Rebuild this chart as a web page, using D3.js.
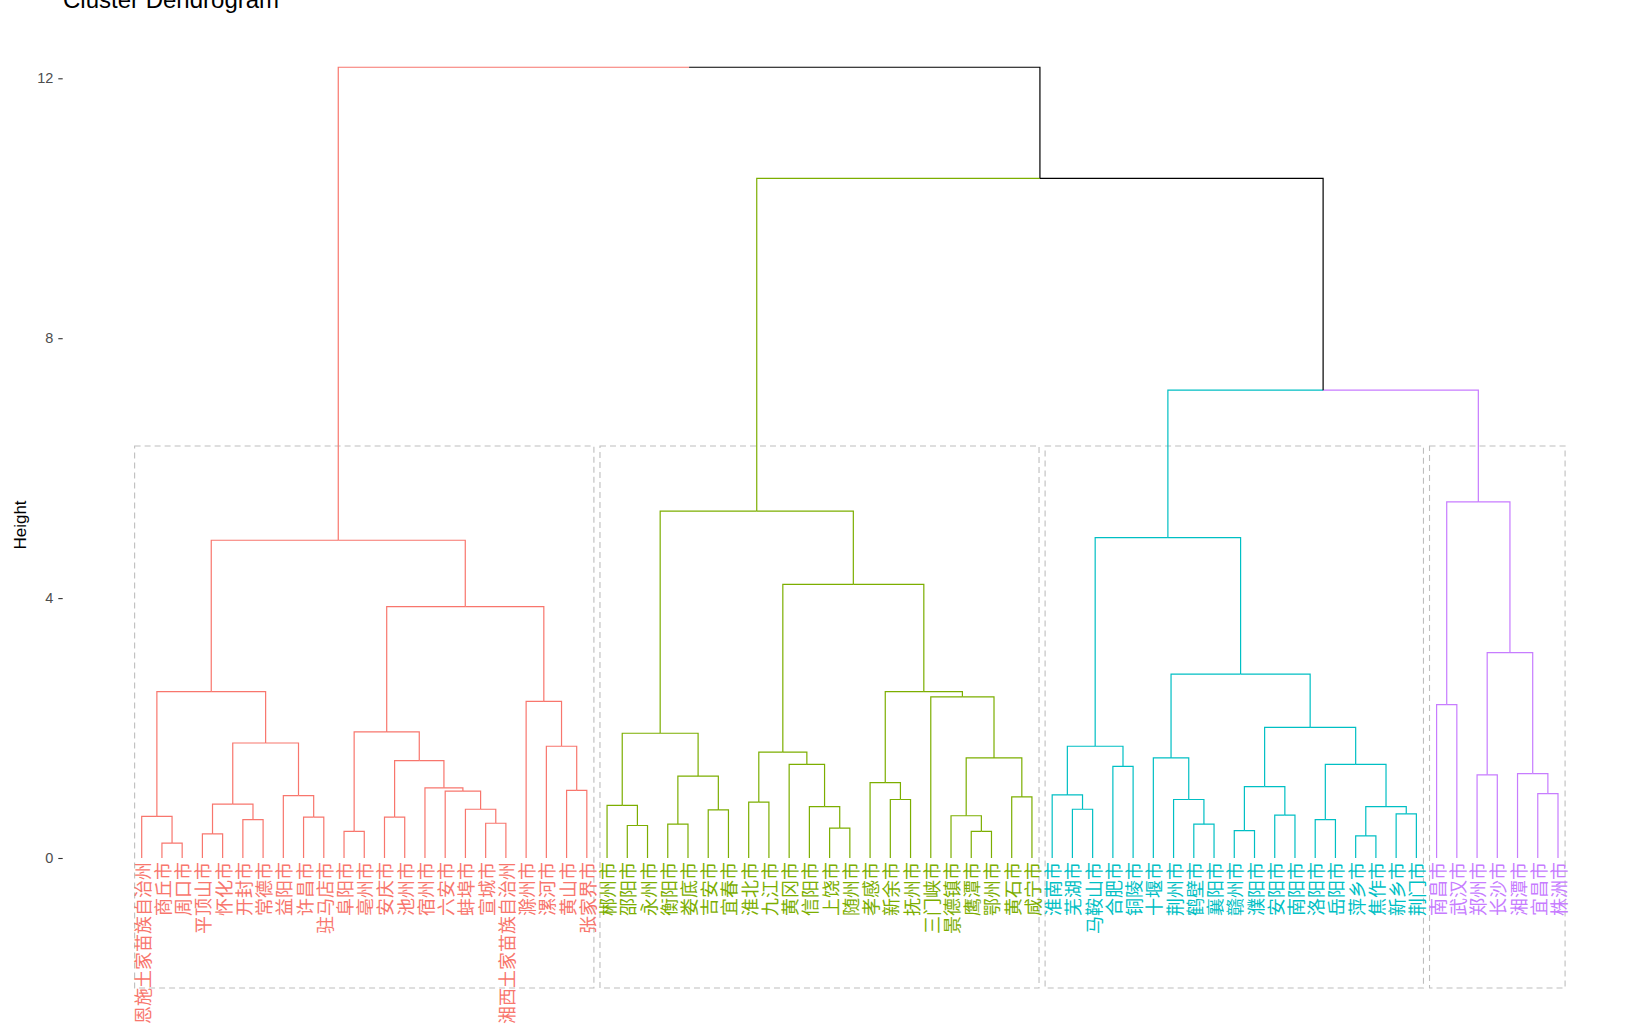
<!DOCTYPE html>
<html>
<head>
<meta charset="utf-8">
<script src="https://cdn.jsdelivr.net/npm/d3@7"></script>
<style>
  body { margin: 0; background: #fff; }
  svg { display: block; }
</style>
</head>
<body>
<div id="chart"></div>
<script>
// leaves in dendrogram order, per cluster
const redLeaves = ["恩施土家苗族自治州", "商丘市", "周口市", "平顶山市", "怀化市", "开封市", "常德市", "益阳市",
    "许昌市", "驻马店市", "阜阳市", "亳州市", "安庆市", "池州市", "宿州市", "六安市", "蚌埠市", "宣城市",
    "湘西土家苗族自治州", "滁州市", "漯河市", "黄山市", "张家界市"];
const greenLeaves = ["郴州市", "邵阳市", "永州市", "衡阳市", "娄底市", "吉安市", "宜春市", "淮北市", "九江市",
    "黄冈市", "信阳市", "上饶市", "随州市", "孝感市", "新余市", "抚州市", "三门峡市", "景德镇市", "鹰潭市",
    "鄂州市", "黄石市", "咸宁市"];
const cyanLeaves = ["淮南市", "芜湖市", "马鞍山市", "合肥市", "铜陵市", "十堰市", "荆州市", "鹤壁市", "襄阳市",
    "赣州市", "濮阳市", "安阳市", "南阳市", "洛阳市", "岳阳市", "萍乡市", "焦作市", "新乡市", "荆门市"];
const purpleLeaves = ["南昌市", "武汉市", "郑州市", "长沙市", "湘潭市", "宜昌市", "株洲市"];

const clusterColors = ["#F8766D", "#7CAE00", "#00BFC4", "#C77CFF"];
const yTicks = [0, 4, 8, 12];

// hclust-style merges: negative = leaf (-(position+1)), positive = merge row (1-based), then height
const merges = [
    [-2, -3, 0.23], [-1, 1, 0.64], [-4, -5, 0.37], [-6, -7, 0.59], [3, 4, 0.83],
    [-9, -10, 0.63], [-8, 6, 0.96], [5, 7, 1.77], [2, 8, 2.56], [-11, -12, 0.41],
    [-13, -14, 0.63], [-18, -19, 0.535], [-17, 12, 0.75], [-16, 13, 1.03], [-15, 14, 1.08],
    [11, 15, 1.50], [10, 16, 1.94], [-22, -23, 1.04], [-21, 18, 1.72], [-20, 19, 2.41],
    [17, 20, 3.87], [9, 21, 4.89],
    [-25, -26, 0.50], [-24, 23, 0.81], [-27, -28, 0.52], [-29, -30, 0.74], [25, 26, 1.26],
    [24, 27, 1.92], [-31, -32, 0.86], [-35, -36, 0.46], [-34, 30, 0.79], [-33, 31, 1.44],
    [29, 32, 1.63], [-38, -39, 0.90], [-37, 34, 1.16], [-42, -43, 0.41], [-41, 36, 0.65],
    [-44, -45, 0.94], [37, 38, 1.54], [-40, 39, 2.48], [35, 40, 2.56], [33, 41, 4.21],
    [28, 42, 5.34],
    [-47, -48, 0.75], [-46, 44, 0.97], [-49, -50, 1.41], [45, 46, 1.72], [-53, -54, 0.52],
    [-52, 48, 0.90], [-51, 49, 1.54], [-55, -56, 0.42], [-57, -58, 0.66], [51, 52, 1.10],
    [-59, -60, 0.59], [-61, -62, 0.34], [-63, -64, 0.68], [55, 56, 0.79], [54, 57, 1.44],
    [53, 58, 2.01], [50, 59, 2.83], [47, 60, 4.93],
    [-65, -66, 2.36], [-67, -68, 1.28], [-70, -71, 0.99], [-69, 64, 1.30], [63, 65, 3.16],
    [62, 66, 5.48],
    [61, 67, 7.20], [43, 68, 10.46], [22, 69, 12.17]
];

const groups = [redLeaves, greenLeaves, cyanLeaves, purpleLeaves];
const leaves = groups.flat();
const leafCluster = groups.flatMap((g, ci) => g.map(() => ci));
const cutHeight = (5.48 + 7.20) / 2;

const width = 1647, height = 1028;
const svg = d3.select("#chart").append("svg")
    .attr("width", width)
    .attr("height", height);

const x = d3.scaleLinear().domain([0, leaves.length - 1]).range([141.7, 1558]);
const y = d3.scaleLinear().domain([0, 12]).range([858, 78.3]);

// node info: x position, height, cluster (-1 if mixed)
function nodeInfo(id) {
    if (id < 0) {
        const i = -id - 1;
        return { x: x(i), h: 0, c: leafCluster[i], lo: i, hi: i };
    }
    return nodes[id - 1];
}
const nodes = [];
merges.forEach(([a, b, h]) => {
    const l = nodeInfo(a), r = nodeInfo(b);
    nodes.push({
        x: (l.x + r.x) / 2, h, c: l.c === r.c ? l.c : -1,
        lo: Math.min(l.lo, r.lo), hi: Math.max(l.hi, r.hi), left: l, right: r
    });
});

const colorOf = c => c < 0 ? "#000000" : clusterColors[c];

// branch segments, coloured by the child
const segs = [];
nodes.forEach(n => {
    [n.left, n.right].forEach(ch => {
        segs.push({ d: `M${ch.x},${y(ch.h)}V${y(n.h)}H${n.x}`, c: ch.c });
    });
});

// cluster rectangles
const rects = groups.map((g, ci) => {
    const lo = leafCluster.indexOf(ci), hi = leafCluster.lastIndexOf(ci);
    return { lo, hi, c: ci };
});
svg.append("g").selectAll("rect")
    .data(rects)
    .join("rect")
    .attr("x", d => x(d.lo - 0.35))
    .attr("width", d => x(d.hi + 0.35) - x(d.lo - 0.35))
    .attr("y", y(cutHeight))
    .attr("height", y(-2) - y(cutHeight))
    .attr("fill", "none")
    .attr("stroke", "#BEBEBE")
    .attr("stroke-width", 1.1)
    .attr("stroke-dasharray", "6,4");

svg.append("g").selectAll("path")
    .data(segs)
    .join("path")
    .attr("d", d => d.d)
    .attr("fill", "none")
    .attr("stroke", d => colorOf(d.c))
    .attr("stroke-width", 1.2);

// leaf labels
svg.append("g").selectAll("text")
    .data(leaves)
    .join("text")
    .attr("transform", (d, i) => `translate(${x(i)},${y(0) + 4}) rotate(-90)`)
    .attr("text-anchor", "end")
    .attr("dominant-baseline", "central")
    .attr("fill", (d, i) => clusterColors[leafCluster[i]])
    .style("font-family", "'Noto Sans CJK SC', sans-serif")
    .style("font-size", "18px")
    .text(d => d);

// y axis
const yAxis = svg.append("g")
    .attr("transform", "translate(62.7,0)")
    .call(d3.axisLeft(y).tickValues(yTicks).tickSize(4.4).tickPadding(5));
yAxis.select(".domain").remove();
yAxis.selectAll("line").attr("stroke", "#333333").attr("stroke-width", 1.1);
yAxis.selectAll("text")
    .attr("fill", "#4D4D4D")
    .style("font-family", "'Liberation Sans', Arial, sans-serif")
    .style("font-size", "14.5px");

svg.append("text")
    .attr("transform", "translate(26,525) rotate(-90)")
    .attr("text-anchor", "middle")
    .style("font-family", "'Liberation Sans', Arial, sans-serif")
    .style("font-size", "17px")
    .text("Height");

svg.append("text")
    .attr("x", 63)
    .attr("y", 7.5)
    .style("font-family", "'Liberation Sans', Arial, sans-serif")
    .style("font-size", "24px")
    .text("Cluster Dendrogram");
</script>
</body>
</html>
